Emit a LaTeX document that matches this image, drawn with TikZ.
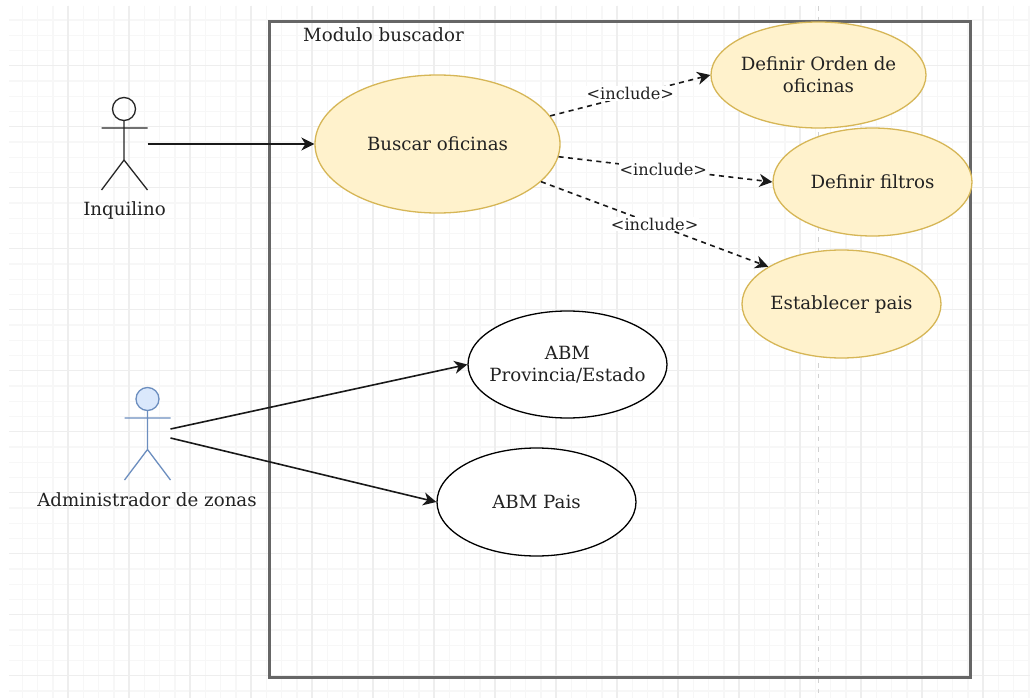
\documentclass[tikz,border=0pt]{standalone}
\usepackage{fontspec}
\setmainfont{DejaVu Serif}
\usetikzlibrary{shapes.geometric,arrows.meta}
\definecolor{usefill}{HTML}{FFF2CC}
\definecolor{usestroke}{HTML}{D6B656}
\definecolor{actfill}{HTML}{DAE8FC}
\definecolor{actstroke}{HTML}{6C8EBF}
\definecolor{gridminor}{HTML}{F7F7F7}
\definecolor{gridmajor}{HTML}{EEEEEE}
\definecolor{framecol}{HTML}{666666}
\definecolor{txt}{HTML}{222222}
\tikzset{
  x=1pt,y=-1pt,
  txtbig/.style={font=\fontsize{18.2}{22}\selectfont,text=txt},
  usecase/.style={ellipse,draw=usestroke,line width=1.3pt,fill=usefill,inner xsep=-40pt,inner ysep=-20pt,txtbig,align=center},
  plaincase/.style={ellipse,draw=black,line width=1.3pt,fill=white,inner xsep=-40pt,inner ysep=-20pt,txtbig,align=center},
  actorbox/.style={inner sep=0pt,minimum width=46pt,minimum height=92pt},
  flow/.style={line width=1.6pt,draw=black!90,-{Stealth[length=13pt,width=13pt,inset=4pt]}},
  incl/.style={flow,dash pattern=on 5pt off 4.5pt},
  incllabel/.style={fill=white,inner sep=1pt,font=\fontsize{16.2}{19}\selectfont,text=txt},
}
\begin{document}
\begin{tikzpicture}
\useasboundingbox (0,0) rectangle (1030,698);
\fill[white] (0,0) rectangle (1030,698);
% grid
\foreach \i in {0,...,67} {
  \draw[gridminor,line width=1.2pt] (22.5+15.25*\i,6) -- (22.5+15.25*\i,698);
}
\foreach \i in {0,...,45} {
  \draw[gridminor,line width=1.2pt] (9,20+15.25*\i) -- (1030,20+15.25*\i);
}
\foreach \i in {0,...,16} {
  \draw[gridmajor,line width=1.2pt] (68+61*\i,6) -- (68+61*\i,698);
}
\foreach \i in {0,...,10} {
  \draw[gridmajor,line width=1.2pt] (9,65.5+61*\i) -- (1030,65.5+61*\i);
}
\node[draw=none,minimum size=0pt,inner sep=0pt] (guideTop) at (818.5,6) {};
\node[draw=none,minimum size=0pt,inner sep=0pt] (guideBot) at (818.5,698) {};
\draw[black!18,line width=1.6pt,dash pattern=on 4.5pt off 6pt] (guideTop) -- (guideBot);
% frame
\node[draw=framecol,line width=3pt,minimum width=701pt,minimum height=655pt,inner sep=0pt] (frame) at (620,349.5) {};
\node[txtbig,anchor=west,inner sep=0pt] (frametitle) at (303,35) {Modulo buscador};
% use cases
\node[usecase,minimum width=245pt,minimum height=138pt] (buscar) at (437.5,144) {Buscar oficinas};
\node[usecase,minimum width=215pt,minimum height=106pt] (orden) at (818.5,75) {Definir Orden de\\oficinas};
\node[usecase,minimum width=199pt,minimum height=108pt] (filtros) at (872.5,182) {Definir filtros};
\node[usecase,minimum width=199pt,minimum height=108pt] (pais) at (841.5,304) {Establecer pais};
\node[plaincase,minimum width=199pt,minimum height=107pt] (prov) at (567.5,364.5) {ABM\\Provincia/Estado};
\node[plaincase,minimum width=199pt,minimum height=108pt] (abmpais) at (536.5,502) {ABM Pais};
% actors
\node[actorbox] (inq) at (124.5,144) {};
\draw[line width=1.3pt,black!85] (124,109) circle (11.5);
\draw[line width=1.3pt,black!85] (124,120.5) -- (124,160) (101.5,128) -- (147.5,128)
  (101.5,190) -- (124,160) -- (147.5,190);
\node[txtbig] (inqlabel) at (124.5,210) {Inquilino};
\node[actorbox] (adm) at (147.5,433.5) {};
\draw[line width=1.3pt,actstroke,fill=actfill] (147.5,399) circle (11.5);
\draw[line width=1.3pt,actstroke] (147.5,410.5) -- (147.5,449.5) (124.5,418) -- (170.5,418)
  (124.5,480) -- (147.5,449.5) -- (170.5,480);
\node[txtbig] (admlabel) at (147,500) {Administrador de zonas};
\coordinate (admA) at (170.5,429);
\coordinate (admB) at (170.5,438);
% connectors
\draw[flow] (inq.east) -- (buscar.west);
\draw[flow] (admA) -- (prov.west);
\draw[flow] (admB) -- (abmpais.west);
\draw[incl] (buscar.14) -- node[incllabel,pos=0.5,yshift=2pt] (l1) {<include>} (orden.west);
\draw[incl] (buscar.-6) -- node[incllabel,pos=0.49] (l2) {<include>} (filtros.west);
\draw[incl] (buscar.-20) -- node[incllabel,pos=0.5] (l3) {<include>} (pais.153);
\end{tikzpicture}
\end{document}
